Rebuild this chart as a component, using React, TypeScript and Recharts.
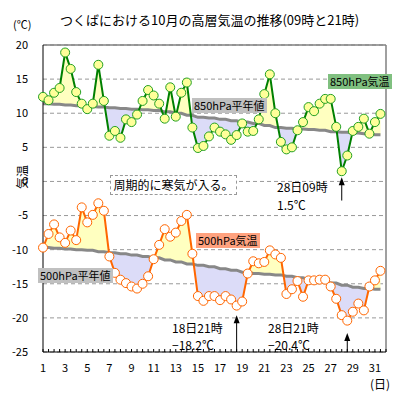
import React from 'react';
import { ComposedChart, Line, Area, XAxis, YAxis, CartesianGrid, ReferenceLine } from 'recharts';

// 日付 (1日〜31日), 各日 09時と21時の2観測
const DAYS = [1, 2, 3, 4, 5, 6, 7, 8, 9, 10, 11, 12, 13, 14, 15, 16, 17, 18, 19, 20, 21, 22, 23, 24, 25, 26, 27, 28, 29, 30, 31];

// 850hPa気温 (09時, 21時 の順)
const T850 = [
  12.4, 11.9, 13.0, 13.7, 18.9, 16.5, 13.1, 11.4, 10.6, 11.4,
  17.1, 11.8, 6.7, 7.4, 6.4, 9.1, 8.7, 9.8, 11.8, 13.4,
  12.6, 11.4, 9.2, 13.8, 9.5, 13.0, 14.5, 7.9, 4.9, 5.2,
  6.6, 7.9, 7.3, 6.9, 6.1, 6.8, 8.5, 7.3, 7.4, 9.1,
  12.8, 15.7, 10.0, 5.8, 4.7, 5.0, 7.5, 8.7, 10.9, 10.3,
  11.4, 12.1, 12.1, 8.0, 1.5, 3.8, 7.4, 8.0, 9.2, 7.0,
  8.7, 9.9,
];

// 500hPa気温 (09時, 21時 の順)
const T500 = [
  -9.7, -7.7, -6.3, -8.2, -9.0, -7.2, -8.6, -3.8, -6.0, -4.9,
  -3.2, -4.3, -11.0, -13.4, -14.4, -14.9, -15.4, -15.7, -15.0, -13.9,
  -11.4, -9.3, -7.0, -8.1, -7.5, -5.8, -4.9, -10.6, -16.8, -17.5,
  -16.8, -16.8, -17.4, -16.8, -17.3, -18.2, -17.6, -13.5, -11.7, -12.0,
  -11.8, -10.1, -10.7, -11.2, -16.5, -15.8, -14.6, -16.9, -14.5, -14.5,
  -14.4, -14.4, -15.4, -17.2, -19.6, -20.4, -19.1, -17.9, -18.9, -15.4,
  -14.5, -13.1,
];

// 平年値 (日ごと)
const NORMAL_850 = [
  11.4, 11.3, 11.2, 11.1, 11.0, 10.9, 10.8, 10.7, 10.6, 10.5,
  10.4, 10.2, 10.0, 9.7, 9.4, 9.3, 9.1, 8.9, 8.7, 8.5,
  8.2, 7.9, 7.8, 7.7, 7.6, 7.5, 7.3, 7.2, 7.1, 7.0, 6.85,
];
const NORMAL_500 = [
  -9.7, -9.8, -9.9, -10.0, -10.1, -10.3, -10.45, -10.6, -10.8, -11.0,
  -11.2, -11.5, -11.8, -12.1, -12.3, -12.5, -12.8, -13.0, -13.3, -13.5,
  -13.6, -13.7, -13.9, -14.1, -14.4, -14.6, -14.9, -15.2, -15.5, -15.7, -15.8,
];

const Y_TICKS = [-25, -20, -15, -10, -5, 0, 5, 10, 15, 20];
const X_TICKS = [...DAYS.flatMap((d) => [d, d + 0.5]), 32];

const rows = T850.map((v, i) => {
  const di = Math.floor(i / 2);
  return {
    t: DAYS[di] + (i % 2) * 0.5,
    v850: v,
    v500: T500[i],
    n850: NORMAL_850[di],
    n500: NORMAL_500[di],
  };
});

// 平年値との差を塗るための範囲データ (交点を挟んで上下を分ける)
function buildFill(vKey: string, nKey: string) {
  const out: any[] = [];
  rows.forEach((r: any, i) => {
    const v = r[vKey];
    const n = r[nKey];
    if (i > 0) {
      const p: any = rows[i - 1];
      const d0 = p[vKey] - p[nKey];
      const d1 = v - n;
      if (d0 * d1 < 0) {
        const f = d0 / (d0 - d1);
        const nn = p[nKey] + f * (n - p[nKey]);
        out.push({ t: p.t + f * (r.t - p.t), up: [nn, nn], dn: [nn, nn] });
      }
    }
    out.push({ t: r.t, up: [n, Math.max(v, n)], dn: [Math.min(v, n), n] });
  });
  return out;
}

const fill850 = buildFill('v850', 'n850');
const fill500 = buildFill('v500', 'n500');

const FONT = '"Noto Sans CJK JP", sans-serif';
const YELLOW = '#FFFFC0';
const LAVENDER = '#DCDCF8';

const DayTick = ({ x, y, payload }: any) => {
  const v = payload.value;
  const showLabel = Number.isInteger(v) && v % 2 === 1 && v <= 31;
  return (
    <g>
      <line x1={x} x2={x} y1={y - 3} y2={y} stroke="#000" />
      {showLabel && (
        <text x={x} y={y + 20} textAnchor="middle" fontSize={11} fill="#000" fontFamily={FONT}>
          {v}
        </text>
      )}
    </g>
  );
};

const Arrow = (props: any) => {
  const { x1, y1, y2 } = props;
  const tip = Math.min(y1, y2);
  const tail = Math.max(y1, y2);
  return (
    <g>
      <line x1={x1} x2={x1} y1={tip + 6} y2={tail} stroke="#000" strokeWidth={1} />
      <polygon points={`${x1},${tip} ${x1 - 3},${tip + 8} ${x1 + 3},${tip + 8}`} fill="#000" />
    </g>
  );
};

const Tag = ({ left, top, bg, children }: any) => (
  <div
    style={{
      position: 'absolute', left, top, background: bg, fontSize: 11, lineHeight: '15px',
      padding: '0 2px', whiteSpace: 'nowrap', color: '#000',
    }}
  >
    {children}
  </div>
);

const Note = ({ left, top, children }: any) => (
  <div style={{ position: 'absolute', left, top, fontSize: 12, lineHeight: '16px', whiteSpace: 'nowrap', color: '#000' }}>
    {children}
  </div>
);

export default function App() {
  return (
    <div style={{ position: 'absolute', left: 0, top: 0, width: 400, height: 400, background: '#fff', fontFamily: FONT }}>
      <ComposedChart width={400} height={400} data={rows} margin={{ top: 45, right: 14, bottom: 0, left: 0 }}>
        <CartesianGrid vertical={false} stroke="#999" strokeDasharray="4 3" />
        <XAxis
          type="number"
          dataKey="t"
          domain={[1, 32]}
          ticks={X_TICKS}
          interval={0}
          height={48}
          tickLine={false}
          tickSize={0}
          tickMargin={0}
          tick={<DayTick />}
          axisLine={{ stroke: '#000' }}
        />
        <YAxis
          domain={[-25, 20]}
          ticks={Y_TICKS}
          interval={0}
          width={43}
          tickLine={false}
          tickSize={0}
          tickMargin={15}
          axisLine={{ stroke: '#000' }}
          tick={{ fontSize: 11, fill: '#000', fontFamily: FONT }}
        />
        <ReferenceLine y={20} stroke="#808080" strokeWidth={1.5} />
        <ReferenceLine x={32} stroke="#808080" strokeWidth={1.5} />

        <Area data={fill850} dataKey="up" type="linear" stroke="none" fill={YELLOW} fillOpacity={1} isAnimationActive={false} />
        <Area data={fill850} dataKey="dn" type="linear" stroke="none" fill={LAVENDER} fillOpacity={1} isAnimationActive={false} />
        <Area data={fill500} dataKey="up" type="linear" stroke="none" fill={YELLOW} fillOpacity={1} isAnimationActive={false} />
        <Area data={fill500} dataKey="dn" type="linear" stroke="none" fill={LAVENDER} fillOpacity={1} isAnimationActive={false} />

        <Line dataKey="n850" type="linear" stroke="#888" strokeWidth={3} dot={false} activeDot={false} isAnimationActive={false} />
        <Line dataKey="n500" type="linear" stroke="#888" strokeWidth={3} dot={false} activeDot={false} isAnimationActive={false} />
        <Line
          dataKey="v850"
          type="linear"
          stroke="#008000"
          strokeWidth={2}
          dot={{ r: 4.5, fill: '#FFFF99', stroke: '#22A022', strokeWidth: 1 }}
          activeDot={false}
          isAnimationActive={false}
        />
        <Line
          dataKey="v500"
          type="linear"
          stroke="#FF6600"
          strokeWidth={2}
          dot={{ r: 4.5, fill: '#FFFFFF', stroke: '#FF6600', strokeWidth: 1 }}
          activeDot={false}
          isAnimationActive={false}
        />

        <ReferenceLine segment={[{ x: 28, y: 0.6 }, { x: 28, y: -2.8 }]} shape={Arrow} />
        <ReferenceLine segment={[{ x: 18.5, y: -19.6 }, { x: 18.5, y: -25 }]} shape={Arrow} />
        <ReferenceLine segment={[{ x: 28.5, y: -22.2 }, { x: 28.5, y: -25 }]} shape={Arrow} />
      </ComposedChart>

      <div style={{ position: 'absolute', left: 60, top: 11, fontSize: 13, lineHeight: '18px', whiteSpace: 'nowrap' }}>
        つくばにおける10月の高層気温の推移(09時と21時)
      </div>
      <div style={{ position: 'absolute', left: 13, top: 17, fontSize: 11, lineHeight: '14px' }}>(℃)</div>
      <div
        style={{
          position: 'absolute', left: 14, top: 174, width: 16, fontSize: 12, lineHeight: '14px',
          transform: 'rotate(-90deg)', transformOrigin: 'center', textAlign: 'center', whiteSpace: 'nowrap',
        }}
      >
        気温
      </div>
      <div style={{ position: 'absolute', left: 370, top: 376, fontSize: 12, lineHeight: '16px' }}>(日)</div>

      <Tag left={192} top={98} bg="#C0C0C0">850hPa平年値</Tag>
      <Tag left={328} top={74} bg="#80C080">850hPa気温</Tag>
      <Tag left={38} top={268} bg="#C0C0C0">500hPa平年値</Tag>
      <Tag left={196} top={233} bg="#FFA27F">500hPa気温</Tag>

      <div
        style={{
          position: 'absolute', left: 110, top: 175, width: 125, height: 18, border: '1px dashed #999',
          fontSize: 12, lineHeight: '18px', textAlign: 'center', whiteSpace: 'nowrap', background: '#fff',
        }}
      >
        周期的に寒気が入る。
      </div>

      <Note left={277} top={179}>28日09時</Note>
      <Note left={277} top={197}>1.5℃</Note>
      <Note left={172} top={320}>18日21時</Note>
      <Note left={172} top={337}>−18.2℃</Note>
      <Note left={268} top={320}>28日21時</Note>
      <Note left={268} top={337}>−20.4℃</Note>
    </div>
  );
}
